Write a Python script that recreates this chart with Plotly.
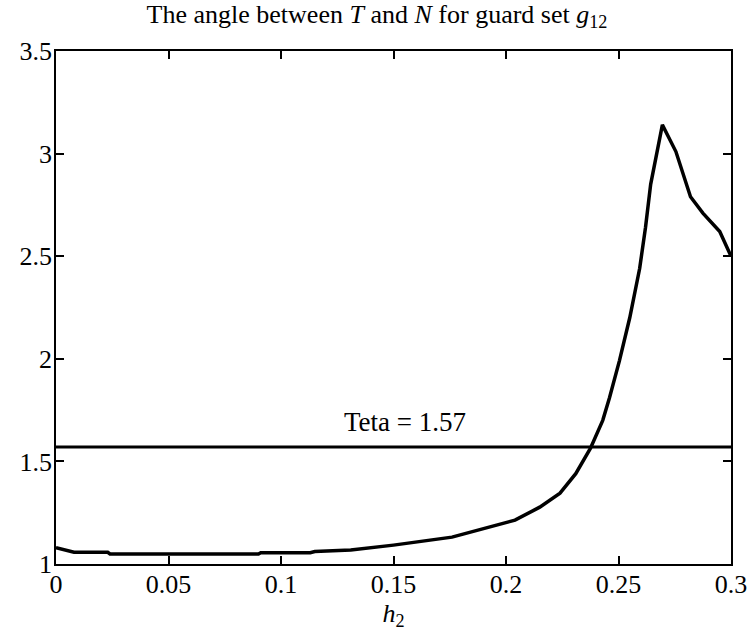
import plotly.graph_objects as go

# angle between T and N along h2
h2 = [0, 0.003, 0.008, 0.023, 0.024, 0.09, 0.091, 0.113, 0.115, 0.131, 0.15,
      0.176, 0.191, 0.204, 0.215, 0.224, 0.231, 0.2375, 0.243, 0.246, 0.2504,
      0.255, 0.2594, 0.262, 0.2643, 0.2665, 0.2695, 0.2755, 0.282, 0.2875,
      0.295, 0.3]
theta = [1.08, 1.072, 1.057, 1.057, 1.049, 1.049, 1.055, 1.055, 1.061, 1.068,
         1.092, 1.131, 1.175, 1.214, 1.277, 1.345, 1.44, 1.563, 1.70, 1.81,
         1.99, 2.20, 2.44, 2.64, 2.85, 2.98, 3.14, 3.01, 2.79, 2.71, 2.62, 2.5]

teta_level = 1.57
x_ticks = [0, 0.05, 0.1, 0.15, 0.2, 0.25, 0.3]
x_ticktext = ["0", "0.05", "0.1", "0.15", "0.2", "0.25", "0.3"]
y_ticks = [1, 1.5, 2, 2.5, 3, 3.5]
y_ticktext = ["1", "1.5", "2", "2.5", "3", "3.5"]

serif = "Liberation Serif, Times New Roman, serif"

fig = go.Figure()

# Teta = 1.57 level
fig.add_trace(go.Scatter(
    x=[x_ticks[0], x_ticks[-1]], y=[teta_level, teta_level],
    mode='lines', line=dict(color='black', width=3), showlegend=False
))

# curve
fig.add_trace(go.Scatter(
    x=h2, y=theta, mode='lines',
    line=dict(color='black', width=3.5), showlegend=False
))

fig.add_annotation(x=0.155, y=1.69, text="Teta = 1.57", showarrow=False,
                   font=dict(family=serif, size=27, color='black'))

axis_style = dict(
    showline=True, linecolor='black', linewidth=1.6, mirror='ticks',
    ticks='inside', ticklen=8, tickwidth=1.5, tickcolor='black',
    showgrid=False, zeroline=False, automargin=False,
    tickfont=dict(family=serif, size=26, color='black')
)

fig.update_layout(
    width=754, height=633,
    margin=dict(l=56, r=23, t=51, b=69),
    paper_bgcolor='white', plot_bgcolor='white',
    title=dict(
        text="The angle between <i>T</i> and <i>N</i> for guard set <i>g</i><sub>12</sub>",
        x=0.5, xanchor='center', y=0.978, yanchor='middle',
        font=dict(family=serif, size=26, color='black')
    ),
    xaxis=dict(range=[0, 0.3], tickvals=x_ticks, ticktext=x_ticktext,
               ticklabelstandoff=-4,
               title=dict(text="<i>h</i><sub>2</sub>", standoff=0,
                          font=dict(family=serif, size=26, color='black')),
               **axis_style),
    yaxis=dict(range=[1, 3.5], tickvals=y_ticks, ticktext=y_ticktext,
               ticklabelstandoff=-3,
               **axis_style),
)

# drop the default 8px body margin so the figure fills the window
fig.write_html("out.html", config={"displayModeBar": False},
               post_script="document.body.style.margin='0';")
